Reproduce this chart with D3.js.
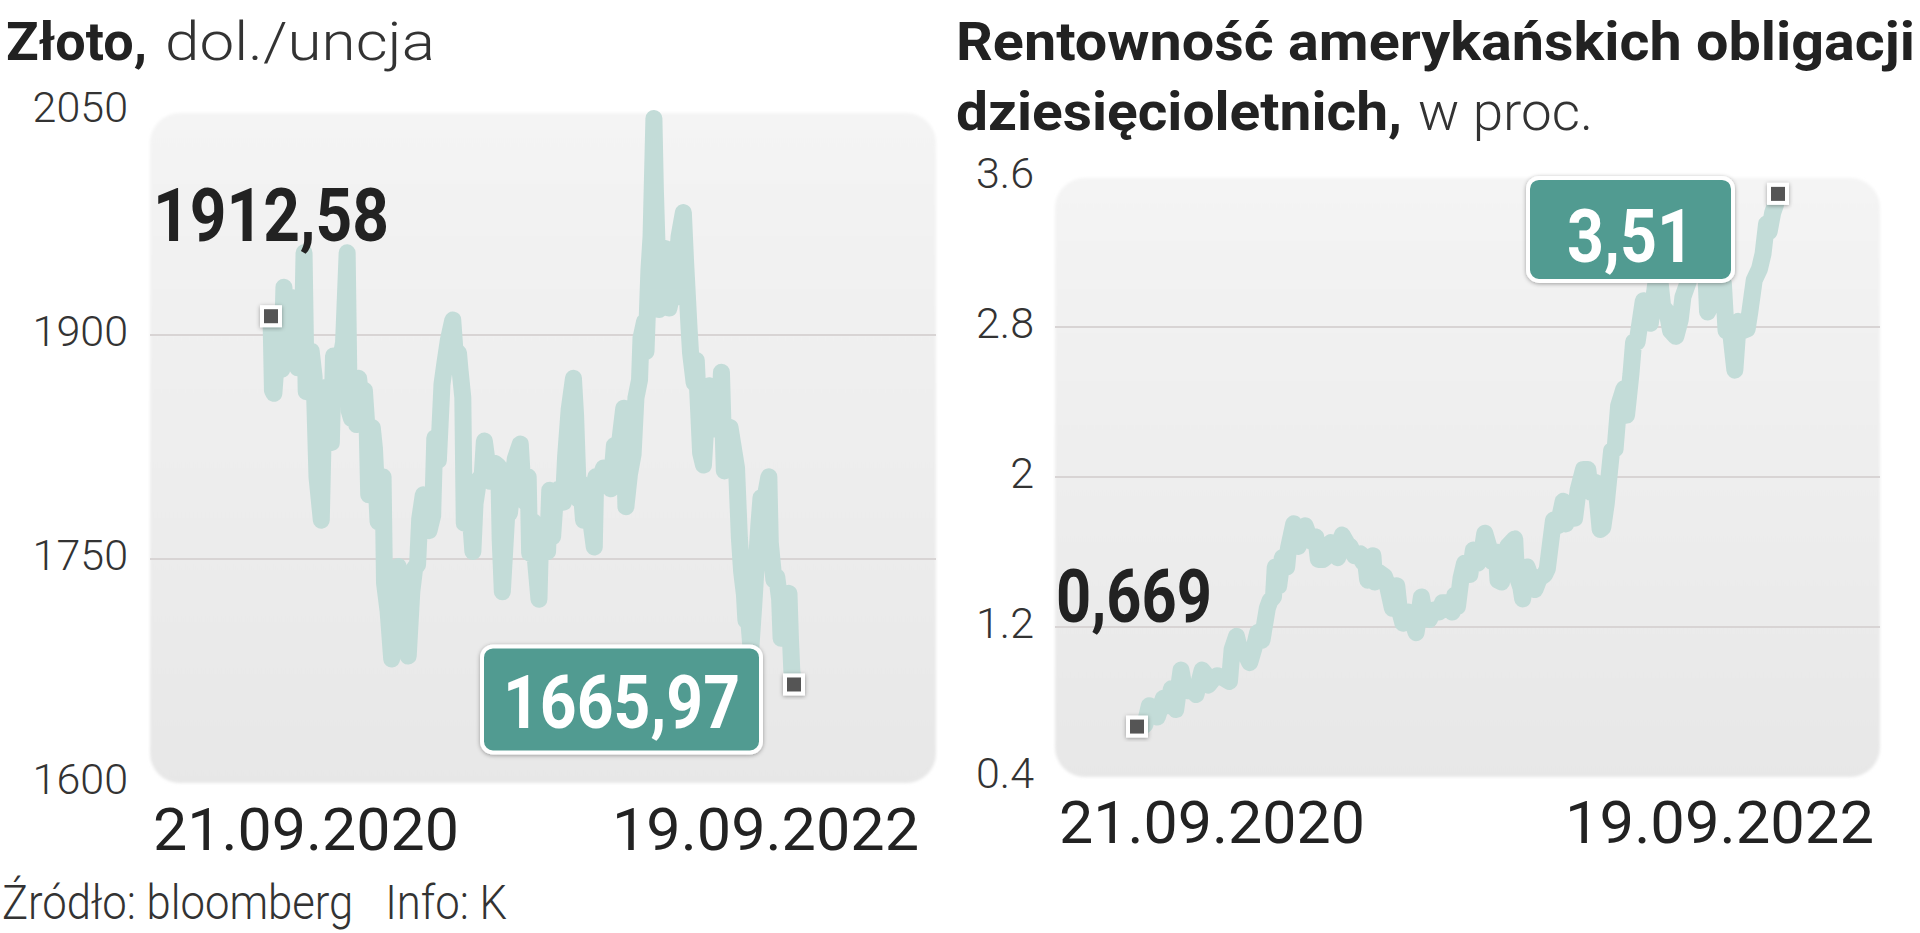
<!DOCTYPE html>
<html>
<head>
<meta charset="utf-8">
<script src="https://cdn.jsdelivr.net/npm/d3@7"></script>
<style>
  html, body { margin: 0; padding: 0; background: #fff; }
  svg { display: block; font-family: Roboto, "Noto Sans", sans-serif; }
  .pre { white-space: pre; }
</style>
</head>
<body>
<svg id="chart" width="1920" height="933"></svg>
<script>
// gold, USD per ounce
var gold = [
  ["2020-09-21",1912.58],["2020-09-23",1863],["2020-09-25",1861],["2020-09-28",1880],["2020-09-30",1886],
  ["2020-10-02",1900],["2020-10-06",1877],["2020-10-09",1932],["2020-10-13",1891],["2020-10-16",1900],
  ["2020-10-21",1925],["2020-10-26",1902],["2020-10-28",1878],["2020-10-30",1880],["2020-11-04",1905],
  ["2020-11-06",1955],["2020-11-09",1862],["2020-11-12",1877],["2020-11-16",1889],["2020-11-20",1872],
  ["2020-11-24",1805],["2020-11-30",1776],["2020-12-03",1841],["2020-12-07",1865],["2020-12-10",1837],
  ["2020-12-14",1828],["2020-12-17",1886],["2020-12-21",1870],["2020-12-24",1876],["2020-12-31",1895],
  ["2021-01-05",1955],["2021-01-08",1849],["2021-01-11",1844],["2021-01-14",1852],["2021-01-18",1840],
  ["2021-01-21",1871],["2021-01-27",1843],["2021-01-29",1863],["2021-02-02",1835],["2021-02-04",1793],
  ["2021-02-09",1838],["2021-02-12",1824],["2021-02-17",1775],["2021-02-19",1784],["2021-02-24",1805],
  ["2021-02-26",1734],["2021-03-03",1715],["2021-03-08",1683],["2021-03-11",1725],["2021-03-17",1745],
  ["2021-03-22",1738],["2021-03-26",1732],["2021-03-31",1685],["2021-04-05",1728],["2021-04-09",1744],
  ["2021-04-13",1746],["2021-04-16",1777],["2021-04-21",1793],["2021-04-26",1780],["2021-04-29",1769],
  ["2021-05-04",1779],["2021-05-07",1831],["2021-05-12",1816],["2021-05-17",1867],["2021-05-21",1881],
  ["2021-05-26",1897],["2021-06-01",1910],["2021-06-04",1890],["2021-06-09",1888],["2021-06-11",1877],
  ["2021-06-15",1858],["2021-06-17",1774],["2021-06-21",1782],["2021-06-25",1781],["2021-06-29",1755],
  ["2021-07-02",1787],["2021-07-07",1803],["2021-07-12",1806],["2021-07-15",1829],["2021-07-20",1811],
  ["2021-07-23",1802],["2021-07-28",1807],["2021-07-30",1814],["2021-08-04",1812],["2021-08-06",1763],
  ["2021-08-09",1728],["2021-08-12",1753],["2021-08-16",1787],["2021-08-19",1781],["2021-08-24",1803],
  ["2021-08-27",1817],["2021-09-03",1827],["2021-09-07",1795],["2021-09-10",1788],["2021-09-14",1805],
  ["2021-09-16",1754],["2021-09-21",1775],["2021-09-24",1750],["2021-09-29",1723],["2021-10-01",1760],
  ["2021-10-06",1761],["2021-10-11",1755],["2021-10-14",1796],["2021-10-18",1765],["2021-10-22",1793],
  ["2021-10-27",1797],["2021-11-02",1788],["2021-11-05",1818],["2021-11-10",1850],["2021-11-16",1871],
  ["2021-11-19",1846],["2021-11-23",1790],["2021-11-26",1801],["2021-11-30",1776],["2021-12-03",1783],
  ["2021-12-08",1783],["2021-12-15",1758],["2021-12-17",1805],["2021-12-22",1803],["2021-12-28",1811],
  ["2022-01-03",1800],["2022-01-07",1797],["2022-01-12",1826],["2022-01-17",1818],["2022-01-21",1835],
  ["2022-01-25",1851],["2022-01-28",1785],["2022-02-02",1807],["2022-02-07",1820],["2022-02-11",1858],
  ["2022-02-16",1870],["2022-02-18",1898],["2022-02-23",1909],["2022-02-25",1889],["2022-03-01",1943],
  ["2022-03-04",1966],["2022-03-08",2045],["2022-03-10",1998],["2022-03-15",1917],["2022-03-17",1942],
  ["2022-03-22",1921],["2022-03-24",1958],["2022-03-29",1918],["2022-04-01",1925],["2022-04-06",1925],
  ["2022-04-12",1966],["2022-04-18",1982],["2022-04-21",1950],["2022-04-26",1904],["2022-04-28",1888],
  ["2022-05-03",1868],["2022-05-06",1883],["2022-05-12",1821],["2022-05-16",1813],["2022-05-20",1846],
  ["2022-05-24",1866],["2022-05-31",1837],["2022-06-03",1851],["2022-06-08",1853],["2022-06-10",1875],
  ["2022-06-14",1809],["2022-06-17",1839],["2022-06-22",1838],["2022-06-28",1820],["2022-07-01",1811],
  ["2022-07-05",1764],["2022-07-08",1742],["2022-07-12",1726],["2022-07-14",1709],["2022-07-18",1709],
  ["2022-07-21",1691],["2022-07-25",1719],["2022-07-27",1735],["2022-08-01",1772],["2022-08-04",1791],
  ["2022-08-08",1790],["2022-08-10",1792],["2022-08-15",1805],["2022-08-17",1761],["2022-08-22",1736],
  ["2022-08-26",1738],["2022-08-30",1723],["2022-09-01",1697],["2022-09-06",1702],["2022-09-09",1716],
  ["2022-09-12",1727],["2022-09-14",1697],["2022-09-16",1675],["2022-09-19",1665.97]
];

// US 10y treasury yield, %
var yields = [
  ["2020-09-21",0.669],["2020-09-25",0.66],["2020-09-30",0.68],["2020-10-05",0.78],["2020-10-09",0.77],
  ["2020-10-14",0.72],["2020-10-21",0.82],["2020-10-26",0.78],["2020-10-30",0.87],["2020-11-04",0.76],
  ["2020-11-10",0.97],["2020-11-13",0.89],["2020-11-18",0.86],["2020-11-24",0.88],["2020-11-27",0.84],
  ["2020-12-04",0.97],["2020-12-09",0.94],["2020-12-11",0.89],["2020-12-16",0.92],["2020-12-21",0.94],
  ["2020-12-28",0.93],["2021-01-04",0.91],["2021-01-07",1.08],["2021-01-12",1.15],["2021-01-15",1.09],
  ["2021-01-20",1.08],["2021-01-27",1.01],["2021-02-01",1.09],["2021-02-05",1.17],["2021-02-10",1.13],
  ["2021-02-16",1.30],["2021-02-19",1.34],["2021-02-23",1.36],["2021-02-25",1.52],["2021-03-01",1.42],
  ["2021-03-05",1.57],["2021-03-10",1.52],["2021-03-12",1.62],["2021-03-18",1.75],["2021-03-23",1.63],
  ["2021-03-26",1.67],["2021-03-31",1.74],["2021-04-06",1.66],["2021-04-12",1.68],["2021-04-15",1.56],
  ["2021-04-20",1.56],["2021-04-23",1.57],["2021-04-29",1.65],["2021-05-04",1.59],["2021-05-07",1.57],
  ["2021-05-12",1.69],["2021-05-18",1.64],["2021-05-21",1.63],["2021-05-26",1.58],["2021-06-02",1.59],
  ["2021-06-04",1.55],["2021-06-08",1.53],["2021-06-10",1.45],["2021-06-16",1.58],["2021-06-18",1.44],
  ["2021-06-23",1.49],["2021-06-29",1.47],["2021-07-02",1.43],["2021-07-08",1.30],["2021-07-13",1.42],
  ["2021-07-16",1.29],["2021-07-20",1.22],["2021-07-26",1.28],["2021-07-30",1.24],["2021-08-04",1.17],
  ["2021-08-10",1.36],["2021-08-13",1.28],["2021-08-19",1.24],["2021-08-24",1.29],["2021-08-30",1.28],
  ["2021-09-03",1.33],["2021-09-08",1.33],["2021-09-14",1.28],["2021-09-17",1.37],["2021-09-20",1.31],
  ["2021-09-24",1.46],["2021-09-28",1.54],["2021-10-04",1.48],["2021-10-08",1.61],["2021-10-13",1.54],
  ["2021-10-19",1.64],["2021-10-21",1.70],["2021-10-26",1.62],["2021-10-29",1.55],["2021-11-03",1.60],
  ["2021-11-05",1.45],["2021-11-09",1.44],["2021-11-12",1.56],["2021-11-16",1.63],["2021-11-24",1.67],
  ["2021-11-26",1.48],["2021-12-01",1.41],["2021-12-03",1.35],["2021-12-08",1.52],["2021-12-14",1.44],
  ["2021-12-17",1.40],["2021-12-22",1.46],["2021-12-28",1.48],["2021-12-31",1.51],["2022-01-04",1.66],
  ["2022-01-07",1.77],["2022-01-12",1.74],["2022-01-18",1.87],["2022-01-21",1.75],["2022-01-26",1.85],
  ["2022-01-31",1.78],["2022-02-04",1.93],["2022-02-10",2.04],["2022-02-15",2.04],["2022-02-18",1.92],
  ["2022-02-24",1.97],["2022-03-01",1.72],["2022-03-04",1.73],["2022-03-08",1.86],["2022-03-14",2.14],
  ["2022-03-18",2.15],["2022-03-22",2.38],["2022-03-28",2.47],["2022-03-31",2.33],["2022-04-05",2.55],
  ["2022-04-08",2.72],["2022-04-12",2.72],["2022-04-19",2.94],["2022-04-22",2.90],["2022-04-27",2.82],
  ["2022-05-02",2.99],["2022-05-06",3.13],["2022-05-11",2.91],["2022-05-16",2.88],["2022-05-20",2.78],
  ["2022-05-26",2.75],["2022-05-31",2.84],["2022-06-03",2.96],["2022-06-09",3.04],["2022-06-14",3.48],
  ["2022-06-17",3.23],["2022-06-23",3.09],["2022-06-28",3.20],["2022-07-01",2.88],["2022-07-06",2.93],
  ["2022-07-08",3.08],["2022-07-14",2.96],["2022-07-19",3.03],["2022-07-22",2.78],["2022-07-27",2.78],
  ["2022-08-01",2.57],["2022-08-05",2.83],["2022-08-10",2.78],["2022-08-15",2.79],["2022-08-18",2.88],
  ["2022-08-23",3.05],["2022-08-29",3.11],["2022-09-02",3.19],["2022-09-06",3.35],["2022-09-09",3.31],
  ["2022-09-13",3.41],["2022-09-16",3.45],["2022-09-19",3.51]
];

var goldTicks = [1600, 1750, 1900, 2050];
var yieldTicks = [0.4, 1.2, 2, 2.8, 3.6];
var dateLabels = ["21.09.2020", "19.09.2022"];
var goldStartLabel = "1912,58", goldEndLabel = "1665,97";
var yieldStartLabel = "0,669", yieldEndLabel = "3,51";

var parse = d3.timeParse("%Y-%m-%d");
var svg = d3.select("#chart");
var defs = svg.append("defs");

var grad = defs.append("linearGradient").attr("id", "panelGrad")
    .attr("x1", 0).attr("y1", 0).attr("x2", 0).attr("y2", 1);
grad.append("stop").attr("offset", "0%").attr("stop-color", "#f4f4f4");
grad.append("stop").attr("offset", "100%").attr("stop-color", "#e7e7e7");

defs.append("filter").attr("id", "soft")
    .append("feGaussianBlur").attr("stdDeviation", 1.5);

var sh = defs.append("filter").attr("id", "shadow")
    .attr("x", "-20%").attr("y", "-20%").attr("width", "140%").attr("height", "140%");
sh.append("feDropShadow").attr("dx", 0).attr("dy", 1).attr("stdDeviation", 2)
    .attr("flood-color", "#000").attr("flood-opacity", 0.35);

function drawChart(c) {
  var g = svg.append("g");
  var x = d3.scaleTime().domain([parse("2020-09-21"), parse("2022-09-19")]).range(c.xRange);
  var y = d3.scaleLinear().domain(d3.extent(c.ticks)).range(c.yRange);

  // background panel
  g.append("rect")
      .attr("x", c.panel[0]).attr("y", c.panel[1])
      .attr("width", c.panel[2]).attr("height", c.panel[3])
      .attr("rx", 30)
      .attr("fill", "url(#panelGrad)")
      .attr("filter", "url(#soft)");

  // inner gridlines
  g.selectAll(".grid").data(c.ticks.slice(1, -1)).enter().append("line")
      .attr("x1", c.panel[0]).attr("x2", c.panel[0] + c.panel[2])
      .attr("y1", function(d) { return y(d); }).attr("y2", function(d) { return y(d); })
      .attr("stroke", "#d8d4d4").attr("stroke-width", 2);

  // y tick labels
  g.selectAll(".tick").data(c.ticks).enter().append("text")
      .attr("x", c.tickX)
      .attr("y", function(d) { return y(d) + 11; })
      .attr("text-anchor", "end")
      .attr("font-size", 43).attr("font-weight", 300).attr("fill", "#333")
      .text(function(d) { return String(d); });

  // x date labels
  g.selectAll(".date").data(dateLabels).enter().append("text")
      .attr("x", function(d, i) { return c.dateX[i]; })
      .attr("y", c.dateY)
      .attr("font-size", 59).attr("fill", "#222")
      .attr("textLength", function(d, i) { return c.dateLen[i]; })
      .attr("lengthAdjust", "spacingAndGlyphs")
      .text(function(d) { return d; });

  // the line
  var line = d3.line()
      .x(function(d) { return x(parse(d[0])); })
      .y(function(d) { return y(d[1]); });
  g.append("path").datum(c.data)
      .attr("d", line)
      .attr("fill", "none")
      .attr("stroke", "#c3dcd8")
      .attr("stroke-width", 17)
      .attr("stroke-linejoin", "round")
      .attr("stroke-linecap", "round");

  var first = c.data[0], last = c.data[c.data.length - 1];
  var sx = x(parse(first[0])), sy = y(first[1]);
  var ex = x(parse(last[0])), ey = y(last[1]);

  // end markers
  [[sx, sy], [ex, ey]].forEach(function(p) {
    g.append("rect").attr("x", p[0] - 11).attr("y", p[1] - 11)
        .attr("width", 22).attr("height", 22).attr("fill", "#fff")
        .attr("filter", "url(#shadow)");
    g.append("rect").attr("x", p[0] - 7).attr("y", p[1] - 7)
        .attr("width", 14).attr("height", 14).attr("fill", "#555");
  });

  // start value
  g.append("text")
      .attr("x", sx + c.startOff[0]).attr("y", sy + c.startOff[1])
      .attr("font-size", 75).attr("font-weight", 700).attr("fill", "#222")
      .attr("textLength", c.startLen).attr("lengthAdjust", "spacingAndGlyphs")
      .text(c.startLabel);

  // end value box
  var bx = ex + c.box[0] - c.box[2], by = ey + c.box[1];
  g.append("rect")
      .attr("x", bx).attr("y", by).attr("width", c.box[2]).attr("height", c.box[3])
      .attr("rx", 11)
      .attr("fill", "#519b91").attr("stroke", "#fff").attr("stroke-width", 4)
      .attr("filter", "url(#shadow)");
  g.append("text")
      .attr("x", bx + c.box[2] / 2).attr("y", by + c.box[4])
      .attr("text-anchor", "middle")
      .attr("font-size", 75).attr("font-weight", 700).attr("fill", "#fff")
      .attr("textLength", c.endLen).attr("lengthAdjust", "spacingAndGlyphs")
      .text(c.endLabel);
}

drawChart({
  data: gold, ticks: goldTicks,
  panel: [150, 113, 786, 670], xRange: [271, 794], yRange: [783, 111],
  tickX: 128, dateX: [153, 612], dateLen: [306, 307], dateY: 850,
  startLabel: goldStartLabel, startOff: [-118, -75], startLen: 236,
  endLabel: goldEndLabel, box: [-33, -38, 279, 106, 82], endLen: 237
});

drawChart({
  data: yields, ticks: yieldTicks,
  panel: [1055, 178, 825, 599], xRange: [1137, 1778], yRange: [777, 177],
  tickX: 1034, dateX: [1059, 1565], dateLen: [306, 309], dateY: 843,
  startLabel: yieldStartLabel, startOff: [-81, -105], startLen: 156,
  endLabel: yieldEndLabel, box: [-45, -16, 205, 103, 84], endLen: 127
});

// titles
function title(x, yb, txt, len, weight, fill) {
  svg.append("text").attr("x", x).attr("y", yb)
      .attr("font-size", 53).attr("font-weight", weight).attr("fill", fill)
      .attr("textLength", len).attr("lengthAdjust", "spacingAndGlyphs")
      .text(txt);
}
title(6, 60, "Złoto,", 141, 700, "#222");
title(165, 60, "dol./uncja", 270, 300, "#333");
title(956, 60, "Rentowność amerykańskich obligacji", 959, 700, "#222");
title(956, 130, "dziesięcioletnich,", 446, 700, "#222");
title(1418, 130, "w proc.", 175, 300, "#333");

// source
svg.append("text").attr("class", "pre")
    .attr("x", 2).attr("y", 919)
    .attr("font-size", 48).attr("font-weight", 300).attr("fill", "#333")
    .attr("textLength", 505).attr("lengthAdjust", "spacingAndGlyphs")
    .text("Źródło: bloomberg   Info: K");
</script>
</body>
</html>
